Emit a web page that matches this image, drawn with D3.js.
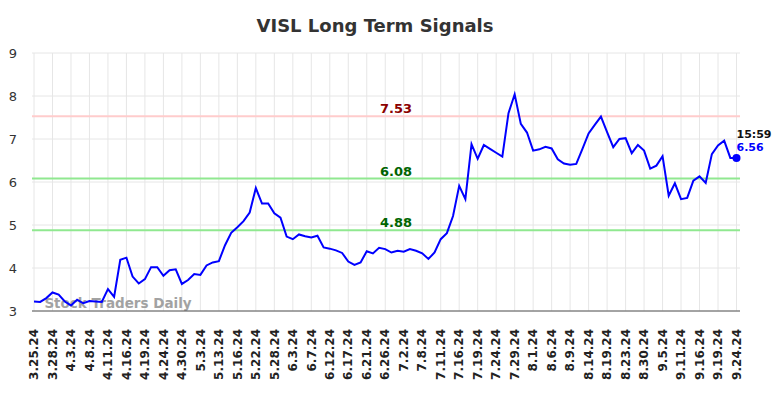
<!DOCTYPE html>
<html>
<head>
<meta charset="utf-8">
<script src="https://cdn.jsdelivr.net/npm/d3@7"></script>
<style>
  body { margin: 0; background: #fff; }
  text { font-family: "DejaVu Sans", sans-serif; }
</style>
</head>
<body>
<script>
let WIDTH = 784,
    HEIGHT = 398;

// trading days shown on the chart
let dates = [
  "3.25.24", "3.26.24", "3.27.24", "3.28.24", "4.1.24", "4.2.24", "4.3.24", "4.4.24", "4.5.24", "4.8.24",
  "4.9.24", "4.10.24", "4.11.24", "4.12.24", "4.15.24", "4.16.24", "4.17.24", "4.18.24", "4.19.24", "4.22.24",
  "4.23.24", "4.24.24", "4.25.24", "4.29.24", "4.30.24", "5.1.24", "5.2.24", "5.3.24", "5.9.24", "5.10.24",
  "5.13.24", "5.14.24", "5.15.24", "5.16.24", "5.20.24", "5.21.24", "5.22.24", "5.23.24", "5.24.24", "5.28.24",
  "5.29.24", "5.31.24", "6.3.24", "6.4.24", "6.6.24", "6.7.24", "6.10.24", "6.11.24", "6.12.24", "6.13.24",
  "6.14.24", "6.17.24", "6.18.24", "6.20.24", "6.21.24", "6.24.24", "6.25.24", "6.26.24", "6.27.24", "7.1.24",
  "7.2.24", "7.3.24", "7.5.24", "7.8.24", "7.9.24", "7.10.24", "7.11.24", "7.12.24", "7.15.24", "7.16.24",
  "7.17.24", "7.18.24", "7.19.24", "7.22.24", "7.23.24", "7.24.24", "7.25.24", "7.26.24", "7.29.24", "7.30.24",
  "7.31.24", "8.1.24", "8.2.24", "8.5.24", "8.6.24", "8.7.24", "8.8.24", "8.9.24", "8.12.24", "8.13.24",
  "8.14.24", "8.15.24", "8.16.24", "8.19.24", "8.20.24", "8.22.24", "8.23.24", "8.27.24", "8.29.24", "8.30.24",
  "9.3.24", "9.4.24", "9.5.24", "9.6.24", "9.10.24", "9.11.24", "9.12.24", "9.13.24", "9.16.24", "9.17.24",
  "9.18.24", "9.19.24", "9.20.24", "9.23.24", "9.24.24"
];

// closing prices
let prices = [
  3.22, 3.21, 3.30, 3.43, 3.38, 3.22, 3.13, 3.26, 3.18, 3.23,
  3.22, 3.21, 3.51, 3.33, 4.19, 4.24, 3.80, 3.64, 3.74, 4.02,
  4.02, 3.82, 3.95, 3.97, 3.63, 3.72, 3.86, 3.84, 4.06, 4.13,
  4.16, 4.53, 4.82, 4.95, 5.09, 5.29, 5.86, 5.50, 5.50, 5.27,
  5.17, 4.73, 4.67, 4.78, 4.74, 4.71, 4.75, 4.48, 4.45, 4.41,
  4.35, 4.15, 4.07, 4.13, 4.39, 4.34, 4.47, 4.44, 4.36, 4.40,
  4.38, 4.44, 4.40, 4.34, 4.21, 4.36, 4.67, 4.81, 5.21, 5.91,
  5.60, 6.88, 6.54, 6.86, 6.77, 6.68, 6.59, 7.60, 8.04, 7.35,
  7.15, 6.73, 6.76, 6.82, 6.78, 6.53, 6.43, 6.40, 6.42, 6.77,
  7.13, 7.33, 7.52, 7.16, 6.81, 7.00, 7.02, 6.67, 6.86, 6.73,
  6.31, 6.38, 6.60, 5.68, 5.97, 5.60, 5.63, 6.03, 6.13, 5.98,
  6.65, 6.85, 6.96, 6.56, 6.56
];

let yTicks = [3, 4, 5, 6, 7, 8, 9];

// signal levels
let signalValues = [7.53, 6.08, 4.88];
let signalKinds = ["resistance", "support", "support"];

let lastTime = "15:59";

let margin = { top: 53, bottom: 87, left: 34, right: 44 };

let svg = d3.select("body").append("svg")
  .attr("width", WIDTH)
  .attr("height", HEIGHT);

let plotRight = WIDTH - margin.right;
let plotBottom = HEIGHT - margin.bottom;

let x = d3.scalePoint()
  .domain(dates)
  .range([margin.left, plotRight - 3.5]);

let y = d3.scaleLinear()
  .domain([3, 9])
  .range([plotBottom, margin.top]);

let tickDates = dates.filter((d, i) => i % 3 === 0);

// grid
svg.append("g")
  .selectAll("line")
  .data(yTicks)
  .enter().append("line")
    .attr("x1", margin.left - 2)
    .attr("x2", plotRight)
    .attr("y1", d => y(d))
    .attr("y2", d => y(d))
    .attr("stroke", "#e6e6e6")
    .attr("stroke-width", 1);

svg.append("g")
  .selectAll("line")
  .data(tickDates)
  .enter().append("line")
    .attr("x1", d => x(d))
    .attr("x2", d => x(d))
    .attr("y1", margin.top)
    .attr("y2", plotBottom)
    .attr("stroke", "#e6e6e6")
    .attr("stroke-width", 1);

// y labels
svg.append("g")
  .selectAll("text")
  .data(yTicks)
  .enter().append("text")
    .attr("x", 17)
    .attr("y", d => y(d))
    .attr("dy", "0.36em")
    .attr("text-anchor", "end")
    .attr("font-size", 13)
    .attr("fill", "#333")
    .text(d => d);

// x labels
svg.append("g")
  .selectAll("text")
  .data(tickDates)
  .enter().append("text")
    .attr("transform", d => "translate(" + x(d) + "," + (plotBottom + 18) + ") rotate(-90)")
    .attr("dy", "0.35em")
    .attr("text-anchor", "end")
    .attr("font-size", 12)
    .attr("font-weight", "bold")
    .attr("fill", "#222")
    .text(d => d);

// watermark
svg.append("text")
  .attr("x", 118)
  .attr("y", plotBottom - 3)
  .attr("text-anchor", "middle")
  .attr("font-size", 13.5)
  .attr("font-weight", "bold")
  .attr("fill", "#999")
  .attr("opacity", 0.9)
  .text("Stock Traders Daily");

// signal lines
let signals = signalValues.map((v, i) => ({ value: v, kind: signalKinds[i] }));

svg.append("g")
  .selectAll("line")
  .data(signals)
  .enter().append("line")
    .attr("x1", margin.left - 2)
    .attr("x2", plotRight)
    .attr("y1", d => y(d.value))
    .attr("y2", d => y(d.value))
    .attr("stroke", d => d.kind === "resistance" ? "#ffcccc" : "#90e890")
    .attr("stroke-width", 2);

svg.append("g")
  .selectAll("text")
  .data(signals)
  .enter().append("text")
    .attr("x", 396)
    .attr("y", d => y(d.value) - 3)
    .attr("text-anchor", "middle")
    .attr("font-size", 13)
    .attr("font-weight", "bold")
    .attr("fill", d => d.kind === "resistance" ? "#8b0000" : "#006400")
    .text(d => d.value.toFixed(2));

// baseline
svg.append("line")
  .attr("x1", margin.left - 2)
  .attr("x2", plotRight)
  .attr("y1", plotBottom)
  .attr("y2", plotBottom)
  .attr("stroke", "#555")
  .attr("stroke-width", 1);

// price line
let line = d3.line()
  .x((d, i) => x(dates[i]))
  .y(d => y(d));

svg.append("path")
  .datum(prices)
  .attr("d", line)
  .attr("fill", "none")
  .attr("stroke", "#0000ff")
  .attr("stroke-width", 2);

// last point
let lastIdx = prices.length - 1;
let lastX = x(dates[lastIdx]),
    lastY = y(prices[lastIdx]);

svg.append("circle")
  .attr("cx", lastX)
  .attr("cy", lastY)
  .attr("r", 4)
  .attr("fill", "#0000ff");

svg.append("text")
  .attr("x", lastX)
  .attr("y", lastY - 20)
  .attr("font-size", 11)
  .attr("font-weight", "bold")
  .attr("fill", "#111")
  .text(lastTime);

svg.append("text")
  .attr("x", lastX)
  .attr("y", lastY - 7)
  .attr("font-size", 11)
  .attr("font-weight", "bold")
  .attr("fill", "#0000ff")
  .text(prices[lastIdx].toFixed(2));

// title
svg.append("text")
  .attr("x", 375)
  .attr("y", 32)
  .attr("text-anchor", "middle")
  .attr("font-size", 18)
  .attr("font-weight", "bold")
  .attr("fill", "#333")
  .text("VISL Long Term Signals");
</script>
</body>
</html>
